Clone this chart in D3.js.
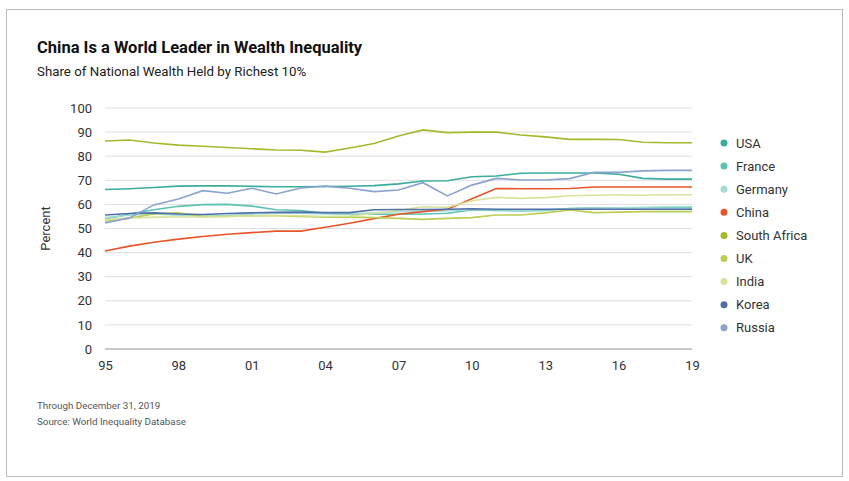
<!DOCTYPE html>
<html>
<head>
<meta charset="utf-8">
<script src="https://cdn.jsdelivr.net/npm/d3@7"></script>
<style>
  body { margin: 0; background: #fff; }
  text { font-family: Roboto, "DejaVu Sans", sans-serif; fill: #333; }
</style>
</head>
<body>
<div id="chart"></div>
<script>
// data (share of wealth held by top 10%, %)
var years = d3.range(1995, 2020);
var tickYears = [1995, 1998, 2001, 2004, 2007, 2010, 2013, 2016, 2019];
var yTicks = [0, 10, 20, 30, 40, 50, 60, 70, 80, 90, 100];
var countries = ["USA", "France", "Germany", "China", "South Africa", "UK", "India", "Korea", "Russia"];
var colors = ["#3aae9c", "#5cc2b3", "#a3dcd5", "#e8552a", "#a6b82c", "#bccd55", "#d9e29a", "#4f6fa6", "#8aa3cc"];

var usa = [66.2, 66.5, 67.0, 67.6, 67.7, 67.7, 67.5, 67.3, 67.3, 67.4, 67.5, 67.8, 68.5, 69.7, 69.8, 71.5, 71.8, 72.9, 73.0, 73.0, 73.0, 72.5, 70.8, 70.5, 70.5];
var france = [53.9, 56.0, 57.8, 59.2, 59.9, 60.0, 59.3, 57.8, 57.5, 56.3, 55.9, 55.9, 55.9, 56.0, 56.3, 57.7, 57.5, 57.3, 57.5, 58.3, 58.6, 58.6, 58.6, 58.6, 58.6];
var germany = [54.5, 55.5, 56.0, 55.5, 55.2, 55.5, 56.0, 56.3, 56.3, 56.0, 56.0, 56.5, 57.0, 57.2, 57.4, 57.8, 57.8, 57.5, 57.8, 58.3, 58.5, 58.6, 58.8, 59.0, 59.0];
var china = [40.7, 42.7, 44.3, 45.6, 46.7, 47.6, 48.3, 48.9, 48.9, 50.5, 52.2, 54.1, 55.9, 57.0, 58.0, 62.3, 66.6, 66.5, 66.5, 66.6, 67.2, 67.2, 67.2, 67.2, 67.2];
var southAfrica = [86.3, 86.7, 85.5, 84.6, 84.1, 83.6, 83.1, 82.6, 82.5, 81.7, 83.4, 85.3, 88.4, 90.9, 89.8, 90.0, 90.0, 88.8, 88.0, 87.0, 87.0, 86.9, 85.8, 85.6, 85.6];
var uk = [53.0, 54.3, 56.0, 56.5, 55.0, 55.0, 55.3, 55.3, 55.0, 54.7, 54.7, 54.5, 54.2, 53.8, 54.2, 54.5, 55.6, 55.6, 56.5, 57.7, 56.6, 56.8, 57.0, 57.0, 57.0];
var india = [53.7, 54.3, 54.7, 54.8, 54.8, 55.0, 55.2, 55.5, 55.3, 55.0, 55.2, 56.2, 57.5, 59.0, 58.8, 61.5, 62.9, 62.5, 62.8, 63.6, 63.8, 63.9, 63.8, 64.0, 64.0];
var korea = [55.6, 56.2, 56.5, 56.0, 55.8, 56.2, 56.5, 56.7, 56.8, 56.6, 56.6, 57.8, 57.9, 57.9, 58.0, 58.2, 58.0, 58.0, 58.0, 58.0, 58.0, 58.0, 58.0, 58.0, 58.0];
var russia = [52.3, 54.4, 59.8, 62.2, 65.7, 64.6, 66.7, 64.3, 66.8, 67.6, 66.7, 65.3, 66.0, 69.0, 63.5, 68.0, 70.8, 70.1, 70.1, 70.7, 73.3, 73.3, 73.9, 74.1, 74.1];

var seriesValues = [usa, france, germany, china, southAfrica, uk, india, korea, russia];
var series = countries.map(function (c, i) {
    return { key: c, color: colors[i], values: seriesValues[i] };
});

var W = 849, H = 481;
var svg = d3.select("#chart").append("svg")
    .attr("width", W)
    .attr("height", H);

// outer frame
svg.append("rect")
    .attr("x", 6.5).attr("y", 9.5)
    .attr("width", 836).attr("height", 467)
    .attr("fill", "none")
    .attr("stroke", "#bbb")
    .attr("stroke-width", 1);

// titles
svg.append("text")
    .attr("x", 37).attr("y", 53)
    .style("font-size", "16.5px")
    .style("font-weight", "bold")
    .style("fill", "#111")
    .text("China Is a World Leader in Wealth Inequality");

svg.append("text")
    .attr("x", 37).attr("y", 76)
    .style("font-size", "13.3px")
    .style("fill", "#222")
    .text("Share of National Wealth Held by Richest 10%");

// scales
var x = d3.scaleLinear().domain([1995, 2019]).range([105, 692]);
var y = d3.scaleLinear().domain([0, 100]).range([349, 108]);

// gridlines
svg.append("g")
    .selectAll("line")
    .data(yTicks)
    .enter()
    .append("line")
    .attr("x1", x(1995)).attr("x2", x(2019))
    .attr("y1", function (d) { return y(d); })
    .attr("y2", function (d) { return y(d); })
    .attr("stroke", function (d) { return d === 0 ? "#c8c8c8" : "#dedede"; })
    .attr("stroke-width", function (d) { return d === 0 ? 2 : 1; });

// Y axis labels
var yAxis = svg.append("g")
    .attr("transform", "translate(" + x(1995) + ",0)")
    .call(d3.axisLeft(y).tickValues(yTicks).tickSize(0).tickPadding(13));
yAxis.select(".domain").remove();
yAxis.selectAll("text")
    .style("font-size", "13px")
    .style("font-family", "Roboto, sans-serif")
    .attr("fill", "#333");

// X axis labels
var xAxis = svg.append("g")
    .attr("transform", "translate(0," + y(0) + ")")
    .call(d3.axisBottom(x).tickValues(tickYears).tickSize(0).tickPadding(12)
        .tickFormat(function (d) { return d3.format("02d")(d % 100); }));
xAxis.select(".domain").remove();
xAxis.selectAll("text")
    .style("font-size", "13px")
    .style("font-family", "Roboto, sans-serif")
    .attr("fill", "#333");

// axis title
svg.append("text")
    .attr("transform", "translate(50," + y(50) + ") rotate(-90)")
    .attr("text-anchor", "middle")
    .style("font-size", "13px")
    .text("Percent");

// lines
var line = d3.line()
    .x(function (d, i) { return x(years[i]); })
    .y(function (d) { return y(d); });

svg.append("g")
    .selectAll("path")
    .data(series)
    .enter()
    .append("path")
    .attr("fill", "none")
    .attr("stroke", function (d) { return d.color; })
    .attr("stroke-width", 1.6)
    .attr("d", function (d) { return line(d.values); });

// legend
var legend = svg.append("g")
    .selectAll("g")
    .data(series)
    .enter()
    .append("g")
    .attr("transform", function (d, i) { return "translate(724," + (143 + i * 23.1) + ")"; });
legend.append("circle")
    .attr("r", 3.5)
    .attr("fill", function (d) { return d.color; });
legend.append("text")
    .attr("x", 12)
    .attr("dy", "0.35em")
    .style("font-size", "13px")
    .text(function (d) { return d.key; });

// footer
svg.append("text")
    .attr("x", 37).attr("y", 409)
    .style("font-size", "9.8px")
    .style("fill", "#555")
    .text("Through December 31, 2019");
svg.append("text")
    .attr("x", 37).attr("y", 425)
    .style("font-size", "9.8px")
    .style("fill", "#555")
    .text("Source:  World Inequality Database");
</script>
</body>
</html>
